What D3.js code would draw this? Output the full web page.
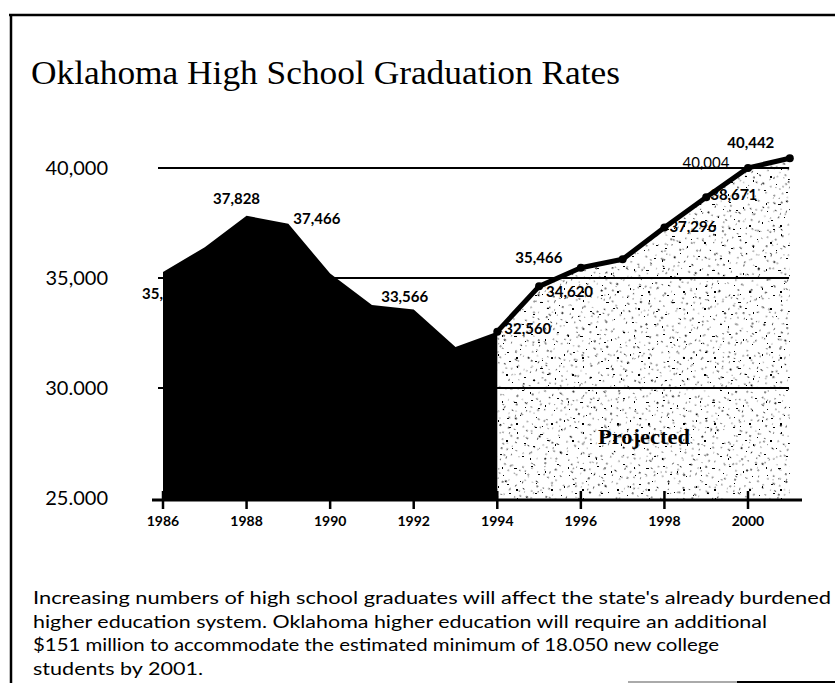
<!DOCTYPE html>
<html>
<head>
<meta charset="utf-8">
<script src="https://cdn.jsdelivr.net/npm/d3@7"></script>
<style>
  body { margin: 0; background: #fff; }
</style>
</head>
<body>
<script>
// actual graduates, 1986-1994
var actualYears = [1986, 1987, 1988, 1989, 1990, 1991, 1992, 1993, 1994];
var actualValues = [35273, 36400, 37828, 37466, 35200, 33770, 33566, 31860, 32560];

// projected graduates, 1994-2001
var projYears = [1994, 1995, 1996, 1997, 1998, 1999, 2000, 2001];
var projValues = [32560, 34620, 35466, 35850, 37296, 38671, 40004, 40442];

var yTicks = [25000, 30000, 35000, 40000];
var yTickLabels = ["25.000", "30.000", "35,000", "40,000"];
var xTicks = [1986, 1988, 1990, 1992, 1994, 1996, 1998, 2000];

var labelYears = [1986, 1988, 1989, 1992, 1994, 1995, 1996, 1998, 1999, 2000, 2001];
var labelValues = [35273, 37828, 37466, 33566, 32560, 34620, 35466, 37296, 38671, 40004, 40442];
var labelTexts = ["35,273", "37,828", "37,466", "33,566", "32,560", "34,620", "35,466", "37,296", "38,671", "40,004", "40,442"];

var title = "Oklahoma High School Graduation Rates";
var noteLines = [
  "Increasing numbers of high school graduates will affect the state's already burdened",
  "higher education system. Oklahoma higher education will require an additional",
  "$151 million to accommodate the estimated minimum of 18.050 new college",
  "students by 2001."
];

var W = 835, H = 683;
var svg = d3.select('body').append('svg')
    .attr('width', W).attr('height', H);

var x = d3.scaleLinear().domain([1986, 2000]).range([163, 748]);
var y = d3.scaleLinear().domain([25000, 40000]).range([498, 168]);

// speckle texture for the projected region
var specks = [[3,4,2,1],[17,9,1,2],[29,2,2,1],[41,13,1,1],[52,6,3,1],[8,21,1,1],[23,27,2,2],
              [36,24,1,2],[47,31,2,1],[58,19,1,1],[12,38,3,1],[31,41,1,1],[44,44,2,2],[55,36,1,2],
              [5,50,2,1],[20,55,1,1],[38,58,2,1],[50,52,1,1],[62,47,2,1],[26,14,1,1],[14,30,1,1],
              [60,60,2,1],[33,33,1,1],[2,62,1,2],[10,12,2,1],[45,22,2,1],[27,48,1,2],[54,27,2,2],
              [19,44,2,1],[40,5,1,2],[63,11,1,1],[7,31,2,1]];
var defs = svg.append('defs');
function makePattern(id, size, transform) {
    var pat = defs.append('pattern')
        .attr('id', id).attr('patternUnits', 'userSpaceOnUse')
        .attr('width', size).attr('height', size);
    if (transform) pat.attr('patternTransform', transform);
    pat.selectAll('rect').data(specks).enter().append('rect')
        .attr('x', function(d) { return d[0]; })
        .attr('y', function(d) { return d[1]; })
        .attr('width', function(d) { return d[2]; })
        .attr('height', function(d) { return d[3]; })
        .attr('fill', '#000');
}
makePattern('speckA', 66, null);
makePattern('speckB', 66, 'rotate(37) scale(0.85)');
makePattern('speckC', 66, 'rotate(-71) scale(0.7)');

// frame
svg.append('line').attr('x1', 9).attr('x2', W).attr('y1', 15).attr('y2', 15)
    .attr('stroke', '#000').attr('stroke-width', 2.5);
svg.append('line').attr('x1', 11).attr('x2', 11).attr('y1', 14).attr('y2', H)
    .attr('stroke', '#000').attr('stroke-width', 2.5);
svg.append('line').attr('x1', 628).attr('x2', 737).attr('y1', 682).attr('y2', 682)
    .attr('stroke', '#aaa').attr('stroke-width', 2);
svg.append('line').attr('x1', 737).attr('x2', W).attr('y1', 682).attr('y2', 682)
    .attr('stroke', '#000').attr('stroke-width', 2);

svg.append('text')
    .attr('x', 31).attr('y', 84)
    .attr('textLength', 589).attr('lengthAdjust', 'spacingAndGlyphs')
    .style('font', '34px "Liberation Serif", serif')
    .text(title);

// y axis labels
svg.selectAll('.ylab').data(yTicks).enter().append('text')
    .attr('class', 'ylab')
    .attr('x', 108)
    .attr('y', function(d) { return y(d) + 7; })
    .attr('text-anchor', 'end')
    .style('font', '20px Lato, sans-serif')
    .text(function(d, i) { return yTickLabels[i]; });

var projData = projYears.map(function(d, i) { return [d, projValues[i]]; });
var actualData = actualYears.map(function(d, i) { return [d, actualValues[i]]; });

var area = d3.area()
    .x(function(d) { return x(d[0]); })
    .y0(500)
    .y1(function(d) { return y(d[1]); });

// projected fill, three overlapping speckle layers
['speckA', 'speckB', 'speckC'].forEach(function(id) {
    svg.append('path').datum(projData)
        .attr('d', area)
        .attr('fill', 'url(#' + id + ')');
});

// gridlines
svg.selectAll('.grid').data(yTicks.slice(1)).enter().append('line')
    .attr('x1', 158).attr('x2', 789)
    .attr('y1', function(d) { return y(d); })
    .attr('y2', function(d) { return y(d); })
    .attr('stroke', '#000').attr('stroke-width', 2);

var offsets = [[-21, 27, 'start'], [-10, -12, 'middle'], [5, 0, 'start'], [-9, -8, 'middle'],
               [7, 2, 'start'], [7, 11, 'start'], [-42, -5, 'middle'], [5, 5, 'start'],
               [4, 3, 'start'], [-42, 0, 'middle'], [-39, -10, 'middle']];

function drawLabel(i) {
    svg.append('text')
        .attr('x', x(labelYears[i]) + offsets[i][0])
        .attr('y', y(labelValues[i]) + offsets[i][1])
        .attr('text-anchor', offsets[i][2])
        .style('font', (i == 9 ? '' : 'bold ') + '15px Lato, sans-serif')
        .text(labelTexts[i]);
}
// this one sits partly behind the black area
drawLabel(0);

svg.append('path').datum(actualData)
    .attr('d', area)
    .attr('fill', '#000');

// x axis
svg.append('line').attr('x1', 152).attr('x2', 802).attr('y1', 500).attr('y2', 500)
    .attr('stroke', '#000').attr('stroke-width', 3);
svg.selectAll('.tick').data(xTicks).enter().append('line')
    .attr('x1', function(d) { return x(d); })
    .attr('x2', function(d) { return x(d); })
    .attr('y1', 491).attr('y2', 509)
    .attr('stroke', '#000').attr('stroke-width', 2.5);
svg.selectAll('.xlab').data(xTicks).enter().append('text')
    .attr('x', function(d) { return x(d); })
    .attr('y', 526)
    .attr('text-anchor', 'middle')
    .style('font', 'bold 14px Lato, sans-serif')
    .text(function(d) { return d; });

// projected line
var line = d3.line()
    .x(function(d) { return x(d[0]); })
    .y(function(d) { return y(d[1]); });
svg.append('path').datum(projData)
    .attr('d', line)
    .attr('fill', 'none')
    .attr('stroke', '#000')
    .attr('stroke-width', 5)
    .attr('stroke-linejoin', 'round')
    .attr('stroke-linecap', 'round');
svg.selectAll('.dot').data(projData).enter().append('circle')
    .attr('cx', function(d) { return x(d[0]); })
    .attr('cy', function(d) { return y(d[1]); })
    .attr('r', 4)
    .attr('fill', '#000');

for (var i = 1; i < labelTexts.length; i++) drawLabel(i);

svg.append('text')
    .attr('x', 598).attr('y', 444)
    .style('font', 'bold 20px "Liberation Serif", serif')
    .attr('textLength', 92).attr('lengthAdjust', 'spacingAndGlyphs')
    .text('Projected');

// note below the chart
var noteWidths = [798, 734, 686, 170];
svg.selectAll('.note').data(noteLines).enter().append('text')
    .attr('x', 33)
    .attr('y', function(d, i) { return 604 + i * 23.7; })
    .attr('textLength', function(d, i) { return noteWidths[i]; })
    .attr('lengthAdjust', 'spacingAndGlyphs')
    .style('font', '18px Lato, sans-serif')
    .text(function(d) { return d; });
</script>
</body>
</html>
